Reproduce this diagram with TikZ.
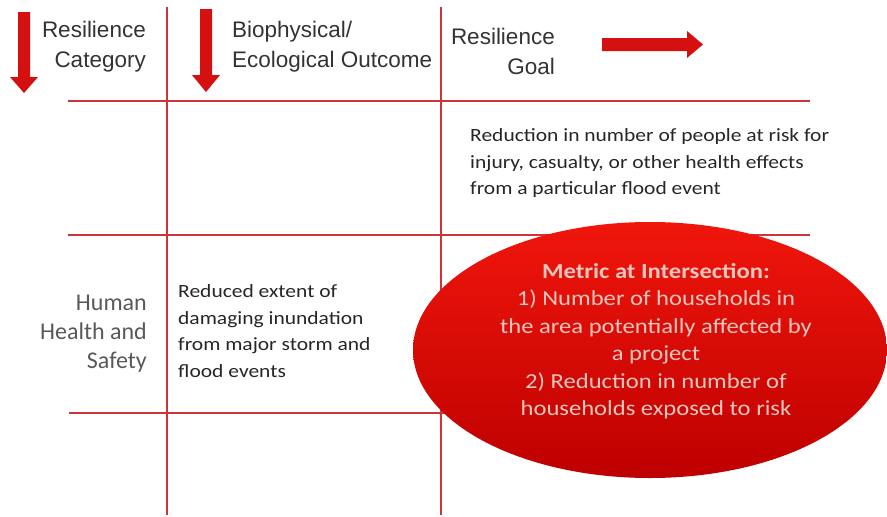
\documentclass[tikz,border=0pt]{standalone}
\usepackage{fontspec}
\setmainfont{Carlito}
\newfontfamily\headfont{Liberation Sans}
\newfontfamily\widefont[FakeStretch=1.15]{Carlito}
\definecolor{gridred}{HTML}{D0343A}
\definecolor{arrowred}{HTML}{D41010}
\definecolor{metrictext}{HTML}{EAC6BE}
\begin{document}
\begin{tikzpicture}[x=1pt, y=-1pt,
		gridline/.style={draw=gridred, line width=1.8pt},
		headtext/.style={font=\headfont\fontsize{22.5}{30}\selectfont, text=black!80, inner sep=0pt},
		celltext/.style={font=\widefont\fontsize{18.7}{26.5}\selectfont, text=black!85, inner sep=0pt, align=left, anchor=north west}]
		\useasboundingbox (0,0) rectangle (887,517);
		\draw[gridline] (68,101) -- (810,101);
		\draw[gridline] (68,235) -- (810,235);
		\draw[gridline] (69,413) -- (810,413);
		\draw[gridline] (167,7) -- (167,515);
		\draw[gridline] (441,7) -- (441,515);

		\fill[arrowred] (18,12) -- (30,12) -- (30,77) -- (38,77) -- (24,93) -- (10,77) -- (18,77) -- cycle;
		\fill[arrowred] (200,9) -- (212,9) -- (212,75) -- (220,75) -- (206,92) -- (192,75) -- (200,75) -- cycle;
		\fill[arrowred] (602,38) -- (687,38) -- (687,31) -- (703,44.5) -- (687,58) -- (687,51) -- (602,51) -- cycle;

		\node[headtext, anchor=north east, align=right] (catHead) at (146,21) {Resilience\\Category};
		\node[headtext, anchor=north west, align=left] (bioHead) at (232,21) {Biophysical/\\Ecological Outcome};
		\node[headtext, anchor=north east, align=right] (goalHead) at (555,28) {Resilience\\Goal};

		\node[celltext] (riskText) at (470,128.5) {Reduction in number of people at risk for\\injury, casualty, or other health effects\\from a particular flood event};
		\node[celltext] (outcomeText) at (178,284.5) {Reduced extent of\\damaging inundation\\from major storm and\\flood events};
		\node[font=\fontsize{24}{29}\selectfont, text=black!65, inner sep=0pt, align=right, anchor=north east] (catText) at (147,294.5) {Human\\Health and\\Safety};

		\shade[top color={rgb,255:red,240;green,22;blue,12}, bottom color={rgb,255:red,190;green,0;blue,0}]
			(650,350) ellipse [x radius=237pt, y radius=128pt];
		\node[font=\widefont\fontsize{21.4}{27.5}\selectfont, text=metrictext, inner sep=0pt, align=center] (metricText) at (656,341)
			{\textbf{Metric at Intersection:}\\1) Number of households in\\the area potentially affected by\\a project\\2) Reduction in number of\\households exposed to risk};
	\end{tikzpicture}
\end{document}
